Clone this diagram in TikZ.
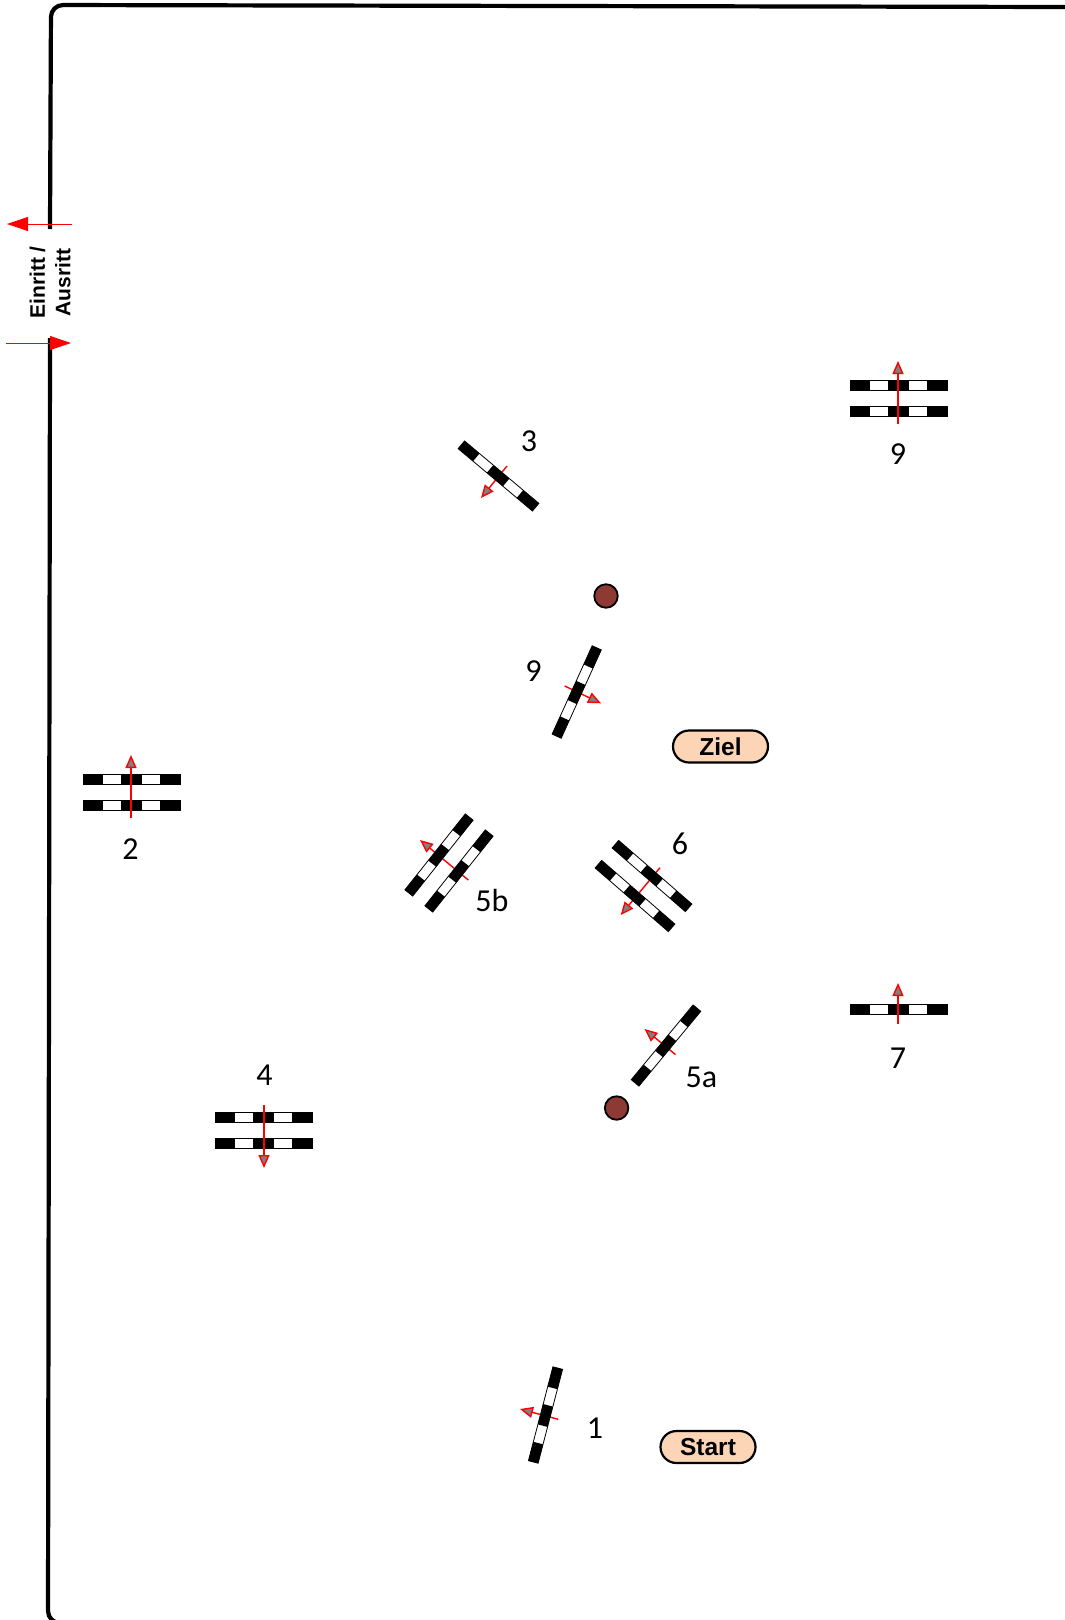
\documentclass[tikz,border=0pt]{standalone}
\usepackage{fontspec}
\setmainfont{Carlito}
\newfontfamily\labelfont{Liberation Sans}
\usetikzlibrary{arrows.meta,shapes.misc}

\definecolor{peach}{HTML}{FBD5B5}
\definecolor{postbrown}{HTML}{8C3A33}

\tikzset{
  gate/.pic={
    \fill[white] (-48.5,-5) rectangle (48.5,5);
    \draw[line width=.8pt] (-48.5,-5) rectangle (48.5,5);
    \foreach \ga/\gb in {-48.5/-29,-11/10,28/48.5}
      \fill (\ga,-5) rectangle (\gb,5);
  },
  direction/.style={red,line width=1.4pt,-{Triangle[length=13pt,width=11pt,fill=gray]}},
  border/.style={line width=4.2pt,rounded corners=12pt},
  gateway/.style={red,line width=.9pt,-{Triangle[length=21pt,width=14pt,fill=red]}},
  pill/.style={draw,line width=2.2pt,fill=peach,rounded rectangle,minimum width=95pt,minimum height=32pt,
    inner sep=0pt,font=\labelfont\bfseries\fontsize{24.5}{26}\selectfont},
  number/.style={font=\fontsize{32}{34}\selectfont,inner sep=0pt},
  post/.style={circle,draw,line width=1.8pt,fill=postbrown,minimum size=23.5pt,inner sep=0pt}
}

\begin{document}
\begin{tikzpicture}[x=1pt,y=-1pt]
  \useasboundingbox (0,0) rectangle (1065,1620);

  % arena
  \draw[border] (1065,7) -- (51,5) -- (50,229);
  \draw[border] (50,338) -- (48,1623) -- (1065,1623);

  % gateway
  \coordinate (outa) at (72,224);
  \coordinate (outb) at (7,224);
  \coordinate (ina) at (6,343);
  \coordinate (inb) at (71,343);
  \draw[gateway] (outa) -- (outb);
  \draw[gateway] (ina) -- (inb);
  \node[rotate=90,align=center,inner sep=0pt,font=\labelfont\bfseries\fontsize{21}{25.5}\selectfont] (gatewaytext) at (50,282.5) {Einritt /\\Ausritt};

  % directions under the slanted gates
  \foreach \dname/\xa/\ya/\xb/\yb in {
    one/558.3/1419.3/520/1409, three/507/466/481/498,
    fivea/675.5/1054.6/644.5/1029, fiveb/468.3/880/420/840,
    six/660/867.7/620.7/915, ninea/564.7/686/601/703.3}
  {
    \coordinate (\dname s) at (\xa,\ya);
    \coordinate (\dname e) at (\xb,\yb);
    \draw[direction] (\dname s) -- (\dname e);
  }

  % gates
  \foreach \gx/\gy/\gr in {
    545.5/1415/75.4, 666/1045.5/50.4, 439/855/51.5, 459/871/51.5,
    652/876/-41, 635/896/-41, 498.5/476/-40, 576.7/692/65.6,
    131.5/779.5/0, 131.5/805.5/0, 263.5/1117.5/0, 263.5/1143.5/0,
    899/385.5/0, 899/411.5/0, 899/1009.5/0}
    \pic[rotate=\gr] at (\gx,\gy) {gate};

  % directions over the straight gates
  \foreach \dname/\xa/\ya/\xb/\yb in {
    two/131/818/131/755, four/264/1105/264/1168,
    seven/898/1023.6/898/983, nineb/898/424/898/361}
  {
    \coordinate (\dname s) at (\xa,\ya);
    \coordinate (\dname e) at (\xb,\yb);
    \draw[direction] (\dname s) -- (\dname e);
  }

  % numbers
  \node[number] (lone) at (595,1428.5) {1};
  \node[number] (ltwo) at (130.5,849) {2};
  \node[number] (lthree) at (529,441) {3};
  \node[number] (lfour) at (264.5,1075) {4};
  \node[number] (lfivea) at (701.5,1077) {5a};
  \node[number] (lfiveb) at (492,900.7) {5b};
  \node[number] (lsix) at (680,844) {6};
  \node[number] (lseven) at (898,1058) {7};
  \node[number] (lninea) at (533.5,671.5) {9};
  \node[number] (lnineb) at (898,454.5) {9};

  \node[post] (posta) at (606,596) {};
  \node[post] (postb) at (616.6,1108) {};
  \node[pill] (goal) at (720.5,746.5) {Ziel};
  \node[pill] (start) at (708,1447) {Start};
\end{tikzpicture}
\end{document}
